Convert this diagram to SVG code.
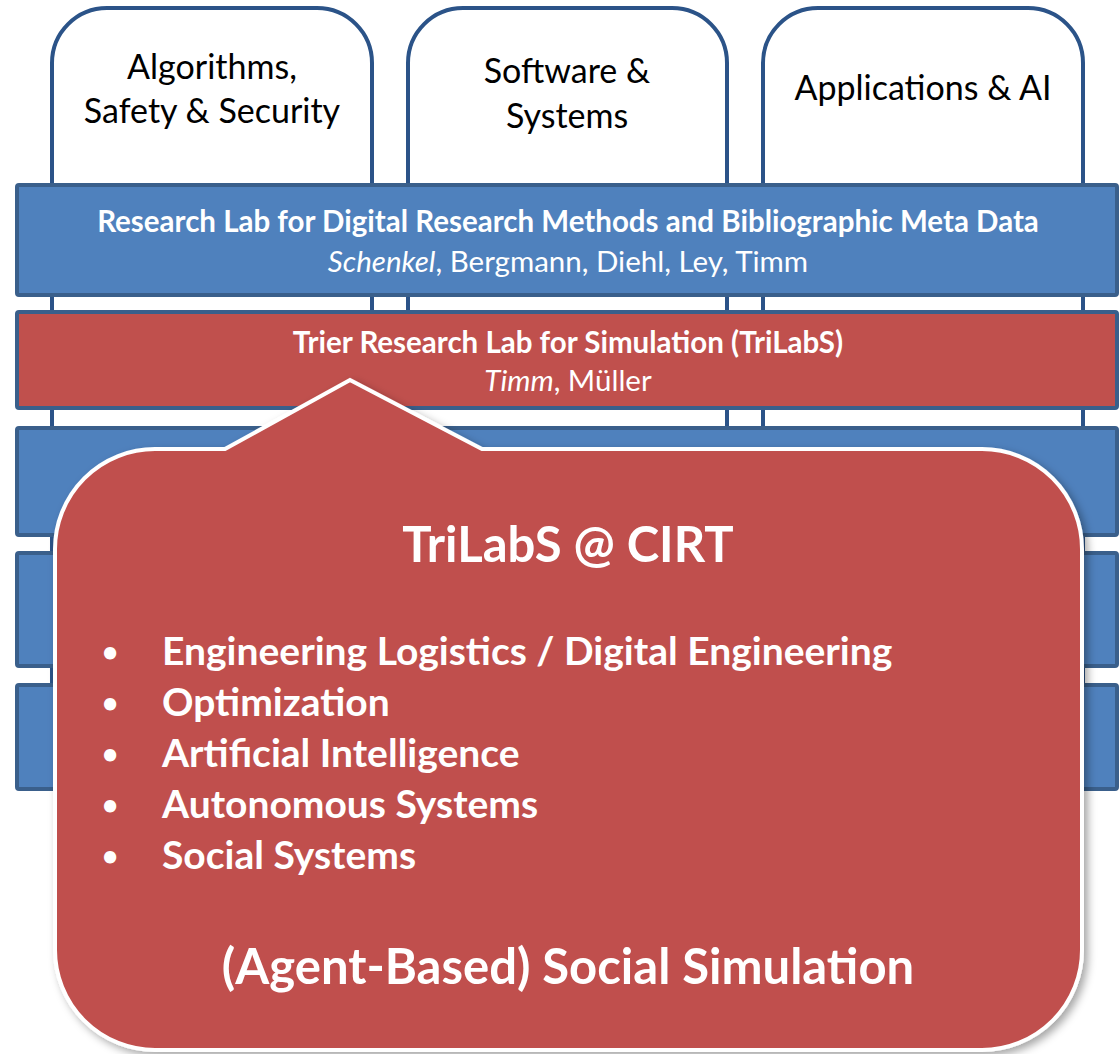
<svg xmlns="http://www.w3.org/2000/svg" width="1120" height="1054" viewBox="0 0 1120 1054">
<defs>
<style>
.col{fill:#ffffff;stroke:#2B5388;stroke-width:4}
.bar-blue{fill:#4F81BD;stroke:#3A5F8B;stroke-width:4}
.bar-red{fill:#C0504D;stroke:#3A5F8B;stroke-width:4}
.callout{fill:#C0504D;stroke:#ffffff;stroke-width:4}
text{font-family:Lato,"Open Sans","Liberation Sans",sans-serif}
.ct{font-size:34px;fill:#000000;text-anchor:middle}
.bt{font-size:29.5px;font-weight:bold;fill:#ffffff;text-anchor:middle}
.bn{font-size:29.5px;fill:#ffffff;text-anchor:middle}
.big{font-size:49px;font-weight:bold;fill:#ffffff;text-anchor:middle}
.li{font-size:39px;font-weight:bold;fill:#ffffff}
.bul{font-size:28px;font-weight:bold;fill:#ffffff;text-anchor:middle}
</style>
<filter id="sh" x="-5%" y="-5%" width="115%" height="115%">
<feDropShadow dx="4" dy="4" stdDeviation="4" flood-color="#000000" flood-opacity="0.35"/>
</filter>
</defs>
<g id="col-algorithms">
<path class="col" d="M52,790 V63 A55,55 0 0 1 107,8 H317 A55,55 0 0 1 372,63 V790"/>
<text class="ct" x="212" y="79">Algorithms,</text>
<text class="ct" x="212" y="123">Safety &amp; Security</text>
</g>
<g id="col-software">
<path class="col" d="M408,790 V63 A55,55 0 0 1 463,8 H672 A55,55 0 0 1 727,63 V790"/>
<text class="ct" x="567" y="83">Software &amp;</text>
<text class="ct" x="567" y="128">Systems</text>
</g>
<g id="col-applications">
<path class="col" d="M763,790 V63 A55,55 0 0 1 818,8 H1028 A55,55 0 0 1 1083,63 V790"/>
<text class="ct" x="923" y="100">Applications &amp; AI</text>
</g>
<g id="bar-research-lab">
<rect class="bar-blue" x="17" y="185" width="1100" height="110" rx="2"/>
<text class="bt" x="568" y="232">Research Lab for Digital Research Methods and Bibliographic Meta Data</text>
<text class="bn" x="568" y="272"><tspan font-style="italic">Schenkel</tspan>, Bergmann, Diehl, Ley, Timm</text>
</g>
<g id="bar-trilabs">
<rect class="bar-red" x="17" y="312" width="1100" height="96" rx="2"/>
<text class="bt" x="568" y="353">Trier Research Lab for Simulation (TriLabS)</text>
<text class="bn" x="568" y="391"><tspan font-style="italic">Timm</tspan>, Müller</text>
</g>
<g id="bar-3"><rect class="bar-blue" x="17" y="428" width="1100" height="107" rx="2"/></g>
<g id="bar-4"><rect class="bar-blue" x="17" y="553" width="1100" height="113" rx="2"/></g>
<g id="bar-5"><rect class="bar-blue" x="17" y="685" width="1100" height="104" rx="2"/></g>
<g id="callout-trilabs-cirt">
<path class="callout" filter="url(#sh)" d="M155,449 H225 L350,380 L482,449 H982 A100,100 0 0 1 1082,549 V950 A100,100 0 0 1 982,1050 H155 A100,100 0 0 1 55,950 V549 A100,100 0 0 1 155,449 Z"/>
<text class="big" x="568" y="562">TriLabS @ CIRT</text>
<text class="bul" x="110" y="662">•</text><text class="li" x="162" y="665">Engineering Logistics / Digital Engineering</text>
<text class="bul" x="110" y="713">•</text><text class="li" x="162" y="716">Optimization</text>
<text class="bul" x="110" y="764">•</text><text class="li" x="162" y="767">Artificial Intelligence</text>
<text class="bul" x="110" y="815">•</text><text class="li" x="162" y="818">Autonomous Systems</text>
<text class="bul" x="110" y="866">•</text><text class="li" x="162" y="869">Social Systems</text>
<text class="big" x="568" y="984">(Agent-Based) Social Simulation</text>
</g>
<g id="connectors"></g>
</svg>
